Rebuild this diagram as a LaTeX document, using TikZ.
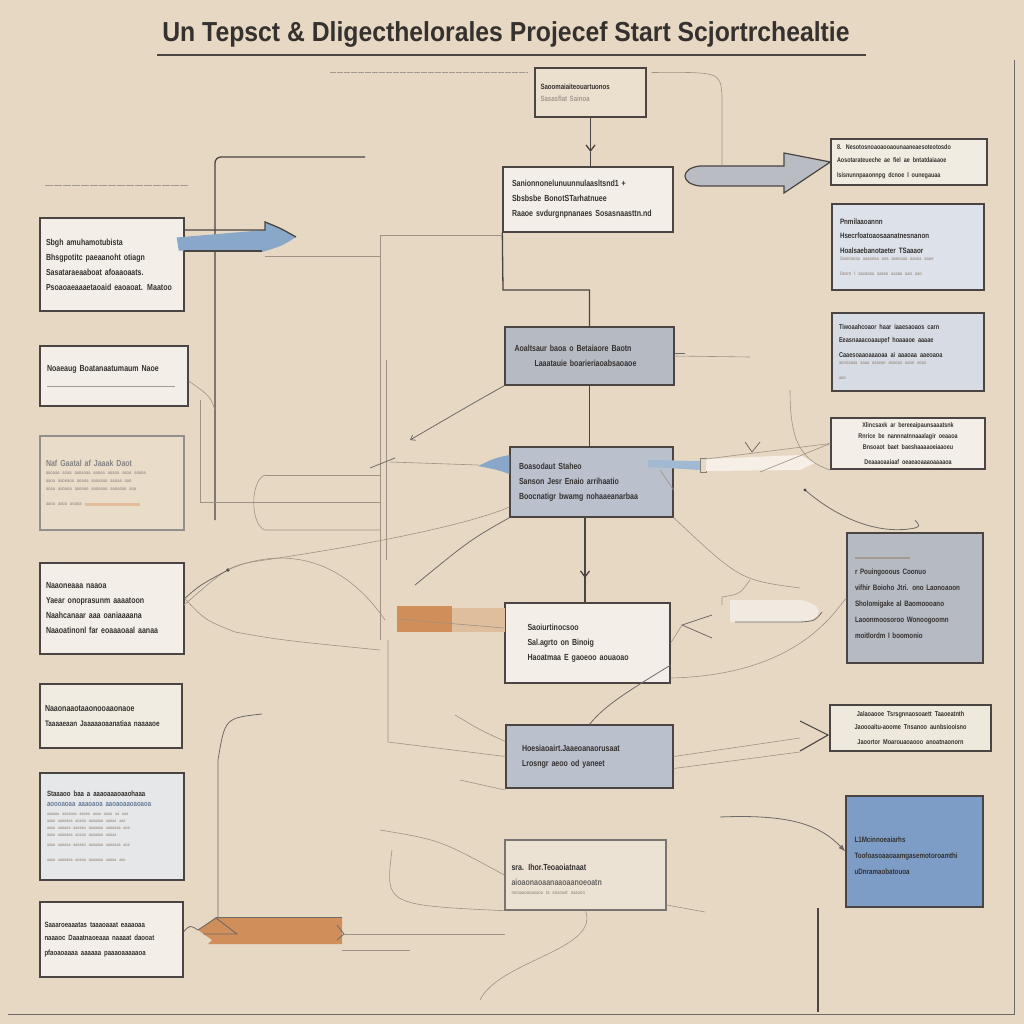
\documentclass[tikz,border=0pt]{standalone}
\usepackage{fontspec}
\setmainfont{Liberation Sans}
\newfontfamily\cond[FakeStretch=0.8]{Liberation Sans}
\newfontfamily\ttl[FakeStretch=0.9]{Liberation Sans}
\usetikzlibrary{arrows.meta,calc}
\definecolor{bg}{HTML}{E7D8C3}
\definecolor{edge}{HTML}{4A4542}
\definecolor{txt}{HTML}{34312F}
\definecolor{faint}{HTML}{A39A90}
\definecolor{wbox}{HTML}{F3EFE8}
\definecolor{gbox}{HTML}{B6BAC3}
\definecolor{gbbox}{HTML}{BAC0CC}
\definecolor{lbbox}{HTML}{DCE1EA}
\definecolor{bbox}{HTML}{7E9DC6}
\definecolor{obox}{HTML}{D08F5A}
\definecolor{lnkc}{HTML}{9E9284}
\definecolor{arrblue}{HTML}{89A7C8}
\definecolor{arrgray}{HTML}{B9BCC2}
\tikzset{
  box/.style={draw=edge, line width=1.4pt, inner sep=0pt, align=left, text=txt,
    font=\cond\bfseries\fontsize{8.8}{15}\selectfont},
  dk/.style={draw=edge, line width=1.3pt},
  lnk/.style={draw=lnkc, line width=0.6pt},
  lnkd/.style={draw=edge!80, line width=0.8pt},
  barb/.style={-{Straight Barb[length=6pt,width=9pt]}},
}
\begin{document}
\begin{tikzpicture}[x=1pt,y=-1pt]
\useasboundingbox (0,0) rectangle (1024,1024);
\fill[bg] (0,0) rectangle (1024,1024);

% title
\node[font=\ttl\bfseries\fontsize{27.5}{27.5}\selectfont, text=txt, anchor=base] (title) at (506,42)
  {Un Tepsct \& Dligecthelorales Projecef Start Scjortrchealtie};
\coordinate (ul1) at (157,55); \coordinate (ul2) at (866,55);
\draw[draw=edge, line width=1.3pt] (ul1) -- (ul2);
\coordinate (tl1) at (330,73); \coordinate (tl2) at (528,73);
\draw[draw=faint, line width=1pt, dash pattern=on 6pt off 1pt] (tl1) -- (tl2);
\coordinate (sl1) at (45,186); \coordinate (sl2) at (188,186);
\draw[draw=faint, line width=1pt, dash pattern=on 8pt off 1pt] (sl1) -- (sl2);

% frame lines at right and bottom
\coordinate (fr1) at (1014,60); \coordinate (fr2) at (1014,1014);
\coordinate (fb1) at (8,1014);
\draw[draw=edge!80, line width=1pt] (fr1) -- (fr2) -- (fb1);
\coordinate (vb1) at (818,908); \coordinate (vb2) at (818,1012);
\draw[dk] (vb1) -- (vb2);

% ---------- centre column ----------
\node[box, fill=bg!70!wbox, minimum width=111pt, minimum height=49pt, text width=100pt, font=\cond\bfseries\fontsize{7.6}{12}\selectfont] (top) at (590.5,92.5)
  {Saoomaiaiteouartuonos\\\textcolor{faint}{Sasasflat Sainoa}};
\node[box, fill=wbox, minimum width=170pt, minimum height=65pt, text width=152pt] (A) at (588,199.5)
  {Sanionnonelunuunnulaasltsnd1 +\\Sbsbsbe BonotSTarhatnuee\\Raaoe svdurgnpnanaes Sosasnaasttn.nd};
\node[box, fill=gbox, minimum width=169pt, minimum height=58pt, text width=150pt] (C1) at (589.5,356)
  {Aoaltsaur baoa o Betaiaore Baotn\\\hspace*{20pt}Laaatauie boarieriaoabsaoaoe};
\node[box, fill=gbbox, minimum width=163pt, minimum height=70pt, text width=145pt] (C2) at (591.5,482)
  {Boasodaut Staheo\\Sanson Jesr Enaio arrihaatio\\Boocnatigr bwamg nohaaeanarbaa};
\node[box, fill=wbox, minimum width=165pt, minimum height=80pt, text width=128pt] (C3) at (587.5,643)
  {\hspace*{4pt}Saoiurtinocsoo\\\hspace*{4pt}Sal.agrto on Binoig\\\hspace*{4pt}Haoatmaa E gaoeoo aouaoao};
\node[box, fill=gbbox, minimum width=167pt, minimum height=63pt, text width=135pt] (C4) at (589.5,756.5)
  {Hoesiaoairt.Jaaeoanaorusaat\\Lrosngr aeoo od yaneet};
\node[box, fill=bg!55!wbox, draw=edge!75, minimum width=161pt, minimum height=70pt, text width=148pt] (C5) at (585.5,875)
  {\\sra. Ihor.Teoaoiatnaat\\\textcolor{txt!75}{aioaonaoaanaaoaanoeoatn}\\[-6pt]{\fontsize{5}{6}\selectfont\textcolor{faint}{mooaaoaoaoaoa ta ooanaet naaoon}}};

% ---------- right column ----------
\node[box, fill=wbox!85!bg, minimum width=156pt, minimum height=46pt, text width=144pt] (R1) at (909,162)
  {{\fontsize{6.8}{12.5}\selectfont 8. Nesotosnoaoaooaounaaneaesoteotosdo\\Aosotarateueche ae fiel ae bntatdaiaaoe\\Isisnunnpaaonnpg dcnoe l ounegauaa}};
\node[box, fill=lbbox, minimum width=152pt, minimum height=86pt, text width=136pt] (R2) at (908,247)
  {{\fontsize{7.8}{14}\selectfont Pnmilaaoannn\\Hsecrfoatoaosaanatnesnanon\\Hoalsaebanotaeter TSaaaor}\\{\fontsize{5}{7}\selectfont\textcolor{faint}{Saaoraeaa aaaoeaa aoa aaeoaaa aaaoa aaoe\\Dasrn I aacoaaa aaaea aaaaa aao aao}}};
\node[box, fill=lbbox!85!gbox, minimum width=152pt, minimum height=78pt, text width=138pt] (R3) at (908,352)
  {{\fontsize{7}{12.5}\selectfont Tiwoaahcoaor haar iaaesaoaos carn\\Eeasnaaacoaaupef hoaaaoe aaaae\\Caaesoaaoaaaoaa ai aaaoaa aaeoaoa}\\{\fontsize{5}{7}\selectfont\textcolor{faint}{aonoaaaa aaaa aaaeae aoaoaa aaoe aoaa\\aao}}};
\node[box, fill=wbox, minimum width=154pt, minimum height=51pt, text width=140pt, align=center] (R4) at (908,443.5)
  {{\fontsize{6.8}{11}\selectfont Xlincsaxk ar bereeaipaunsaaatsnk\\Rnrice be nannnatnnaaalagir oeaaoa\\Bnsoaot baet baeshaaaaoeiaaoeu\\Deaaaoaaiaaf oeaeaoaaaoaaaaoa}};
\node[box, fill=gbox, minimum width=136pt, minimum height=130pt, text width=120pt, font=\cond\bfseries\fontsize{7.8}{16}\selectfont] (R5) at (915,598)
  {\textcolor{faint}{\rule{55pt}{2pt}}\\r Pouingooous Coonuo\\vifhir Boioho Jtri. ono Laonoaoon\\Sholomigake al Baomoooano\\Laoonmoosoroo Wonoogoomn\\moitlordm I boomonio};
\node[box, fill=wbox!70!bg, minimum width=161pt, minimum height=46pt, text width=140pt, align=center] (R6) at (910.5,728)
  {{\fontsize{7}{12.5}\selectfont Jalaoaooe Tsrsgnnaosoaett Taaoeatnth\\Jaoooaitu-aoome Tnsanoo aunbsiooisno\\Jaoortor Moarouaoaooo anoatnaonorn}};
\node[box, fill=bbox, minimum width=137pt, minimum height=111pt, text width=120pt, font=\cond\bfseries\fontsize{7.8}{14}\selectfont] (R7) at (914.5,851.5)
  {\\L1Mcinnoeaiarhs\\[2pt]Toofoasoaaoaamgasemotoroamthi\\[2pt]uDnramaobatouoa};

% ---------- left column ----------
\node[box, fill=wbox, minimum width=144pt, minimum height=93pt, text width=132pt] (L1) at (112,264.5)
  {Sbgh amuhamotubista\\Bhsgpotitc paeaanoht otiagn\\Sasataraeaaboat afoaaoaats.\\Psoaoaeaaaetaoaid eaoaoat. Maatoo};
\node[box, fill=wbox, minimum width=148pt, minimum height=60pt, text width=134pt] (L2) at (114,376)
  {Noaeaug Boatanaatumaum Naoe\\\textcolor{faint}{\rule{128pt}{0.8pt}}\\};
\node[box, fill=bg!80!wbox, draw=edge!60, minimum width=144pt, minimum height=94pt, text width=132pt] (L3) at (112,483)
  {\textcolor{txt!60}{Naf Gaatal af Jaaak Daot}\\{\fontsize{5}{8}\selectfont\textcolor{faint}{aaoaaa aoaa aaoaoaa aaoea aoaoa aaoa aoaoa\\aaoa aaoeaoa aoaoa aaoaoaa aaoaa aao\\aoaa aaoaoa aaoeao aaoaoaa aaoaoaa aoa\\aaoa aaoa aoaoa \textcolor{obox!60}{\rule{55pt}{3pt}}}}};
\node[box, fill=wbox, minimum width=144pt, minimum height=91pt, text width=132pt] (L4) at (112,608.5)
  {Naaoneaaa naaoa\\Yaear onoprasunm aaaatoon\\Naahcanaar aaa oaniaaaana\\Naaoatinonl far eoaaaoaal aanaa};
\node[box, fill=wbox!85!bg, minimum width=142pt, minimum height=64pt, text width=132pt] (L5) at (111,716)
  {Naaonaaotaaonooaaonaoe\\{\fontsize{8}{14}\selectfont Taaaaeaan Jaaaaaoaanatiaa naaaaoe}\\};
\node[box, fill=lbbox!60!wbox, minimum width=144pt, minimum height=107pt, text width=130pt] (L6) at (112,826.5)
  {{\fontsize{7.6}{10}\selectfont Staaaoo baa a aaaoaaaoaaohaaa\\\textcolor{bbox!70!txt}{aoooaoaa aaaoaoa aaoaoaaoaoaoa}\\[2pt]{\fontsize{4.5}{7}\selectfont\textcolor{faint}{aaoaoa aaoaoaa aaoea aoaa aoao aa aoa\\aaoa aaoeaoa aoaoa aaoaoaa aaoaa aao\\aoaa aaoaoa aaoeao aaoaoaa aaoaoaa aoa\\aaoa aaoeaoa aoaoa aaoaoaa aaoaa\\[3pt]aoaa aaoaoa aaoeao aaoaoaa aaoaoaa aoa\\aaoa aaoeaoa aoaoa aaoaoaa aaoaa aao}}}};
\node[box, fill=wbox, minimum width=143pt, minimum height=75pt, text width=134pt] (L7) at (111.5,939.5)
  {{\fontsize{7.6}{12.5}\selectfont Saaaroeaaatas taaaoaaat eaaaoaa\\naaaoc Daaatnaoeaaa naaaat daooat\\pfaoaoaaaa aaaaaa paaaoaaaaaoa}\\};

% ---------- main dark connectors ----------
\coordinate (ta) at (590.5,152);
\draw[dk,barb] (top.south) -- (ta);
\draw[dk] (ta) -- (A.north -| ta);
\coordinate (ab) at (503,290);
\draw[dk] (A.south west) -- (ab) -| (C1.north);
\draw[dk] (C1.south) -- (C1.south |- C2.north);
\coordinate (cm) at (585,578);
\draw[dk] (C2.south -| cm) -- (cm);
\draw[dk,barb] ($(cm)+(0,-5)$) -- (cm);
\draw[dk] (cm) -- (C3.north -| cm);
\coordinate (lt) at (365,157); \coordinate (lb) at (215,520);
\draw[dk, rounded corners=6pt] (lt) -| (lb);
\draw[lnkd] ($(C3.east)+(0,22)$) .. controls (630,690) and (605,705) .. (C4.north);

% blue arrow from L1
\fill[arrblue] ($(L1.east)+(-8,-27)$) -- (265,230) -- (265,222) .. controls (280,228) .. (296,237) .. controls (282,246) .. (262,252) -- ($(L1.east)+(-6,-14)$) -- cycle;
\draw[draw=edge, line width=1.3pt] (184,230) -- (265,230) -- (265,222) .. controls (280,228) .. (296,237);
\draw[draw=edge, line width=1.3pt] (184,251) -- (262,251);
\draw[lnk] (265,256) -- (380,256);

% grey big arrow A -> R1
\draw[draw=edge, line width=1.2pt, fill=arrgray] (784,166) -- (784,153) -- (R1.west) -- (784,193) -- (784,186) -- (700,186) .. controls (680,184) and (680,168) .. (700,166) -- cycle;

% ---------- thin connectors ----------
\coordinate (q1) at (410,440);
\draw[lnkd, -{Straight Barb[length=4pt,width=6pt]}] (C1.south west) .. controls (470,405) .. (q1);
\coordinate (q2) at (750,357);
\draw[lnk] (C1.east) -- (q2);
\draw[lnkd] ($(C1.east)+(0,-3)$) -- ++(10,0);
\coordinate (v1) at (380,235); \coordinate (v2) at (380,640);
\draw[lnk] (v1) -- (v2);
\draw[lnk] (v1) -- (A.west |- v1);
\coordinate (v3) at (386,360); \coordinate (v4) at (386,560);
\draw[lnk] (v3) -- (v4);
\coordinate (ar) at (722,165);
\draw[lnk] ($(top.east)+(5,-20)$) .. controls (720,72) .. (722,95) -- (ar);
\draw[lnk] (L2.east) ++(0,5) .. controls (210,396) .. (215,410);
\draw[lnk] (200,400) -- (200,502) -- (380,502);
\draw[lnk] (265,475) .. controls (250,480) and (250,525) .. (265,530) -- (380,530);
\draw[lnk] (265,475) -- (380,475);

% C2 left and right blue pieces
\fill[arrblue] (C2.west |- 0,460) -- (C2.west |- 0,474) .. controls (498,470) .. (478,466) .. controls (495,458) .. (C2.west |- 0,455) -- cycle;
\draw[lnk] (390,462) -- (478,465);
\draw[lnkd] (370,468) -- (395,458);
\fill[arrblue!80!white] (648,460) -- (700,461) -- (700,470) -- (648,467) -- cycle;
\draw[draw=edge!70, line width=0.6pt] (700,458) rectangle (706,472);
\fill[white!60!bg] (706,459) -- (800,455) -- (815,463) -- (800,470) -- (706,471) -- cycle;
\draw[lnk] (706,459) -- (R4.west);
\draw[lnk] (760,472) -- (R4.west);
\draw[lnkd] (745,442) -- (752,452) -- (760,442);
\draw[lnk] (C2.east) ++(0,8) -- (660,470);

% lines around C2 bottom
\draw[lnkd] (C2.south west) .. controls (470,540) .. (415,585);
\draw[lnk] (C2.south east) .. controls (740,580) .. (800,588);
\draw[lnk] (C2.west) ++(0,25) .. controls (480,520) and (400,540) .. (265,560) .. controls (230,565) .. (184,605);

% R5 top curve
\coordinate (r5a) at (805,490);
\draw[lnkd] (r5a) .. controls (840,520) and (880,535) .. (915,528) .. controls (920,526) .. (915,520);
\fill[edge] (r5a) circle (1.6pt);
\draw[lnk] (790,390) .. controls (790,440) and (800,460) .. (830,470);
\draw[lnk] (C3.east) ++(0,35) .. controls (800,675) and (835,610) .. (R5.west);

% pill and "<"
\fill[wbox!80!bg] (730,600) -- (800,600) .. controls (825,604) and (825,620) .. (800,622) -- (730,622) -- cycle;
\draw[lnkd] (735,622) -- (800,622) .. controls (815,621) .. (822,612);
\draw[lnkd] (712,615) -- (682,625) -- (712,638);
\draw[lnk] (C3.east) -- (682,625);
\draw[lnk] (722,605) -- (722,597) .. controls (740,594) .. (750,580);

% orange rectangles
\fill[obox] (397,606) rectangle (452,632);
\fill[obox!35!bg] (452,608) rectangle (505,632);
\draw[lnk] (C3.west) ++(0,-15) -- (397,619);

% C4 -> R6 with chevron
\coordinate (ch) at (828,735);
\draw[lnk] (C4.east) -- (800,738);
\draw[lnk] ($(C4.east)+(0,12)$) -- (800,752);
\draw[dk, line width=1.1pt] (800,721) -- (ch) -- (800,751);
\draw[lnk] (388,640) -- (388,742) -- (C4.west);
\draw[lnk] (C4.west) ++(0,-15) .. controls (480,730) .. (455,715);

% R7 arrow
\coordinate (r7s) at (720,817);
\draw[lnkd, -{Latex[length=7pt,width=5pt]}] (r7s) .. controls (790,814) and (820,825) .. (R7.west);
\draw[lnk] (C5.east) ++(0,30) -- (705,912);

% C5 curves
\draw[lnk] (380,830) .. controls (440,840) .. (C5.west);
\draw[lnk] (392,850) .. controls (385,905) .. (C5.south west);
\draw[lnk] (C5.south) .. controls (600,950) and (500,960) .. (480,1000);
\draw[lnk] (460,780) -- (505,790);

% lower-left curve and orange arrow
\draw[lnkd] (262,714) .. controls (225,718) .. (218,760) -- (218,917);
\fill[obox] (216,917) -- (342,917) -- (342,944) -- (208,944) -- (212,940) -- (198,930) -- cycle;
\draw[draw=edge!80, line width=1pt] (216,917) -- (342,917);
\draw[draw=edge!80, line width=0.9pt] (198,930) -- (216,918) -- (237,934) -- (203,934);
\draw[lnkd] (L7.east) ++(0,-8) .. controls (190,925) .. (198,930);
\draw[lnkd] (337,925) -- (344,934) -- (337,940);
\draw[lnk] (344,934) -- (505,934);
\draw[lnk] (342,950) -- (410,950);

% L4 connector
\draw[lnkd] (L4.east) ++(0,-10) .. controls (200,585) .. (228,570);
\fill[edge] (228,570) circle (1.8pt);
\draw[lnk] (228,570) .. controls (260,555) and (330,540) .. (385,620);
\draw[lnk] (L4.east) ++(0,-10) .. controls (205,620) .. (235,632) .. controls (280,640) .. (380,650);

\end{tikzpicture}
\end{document}
